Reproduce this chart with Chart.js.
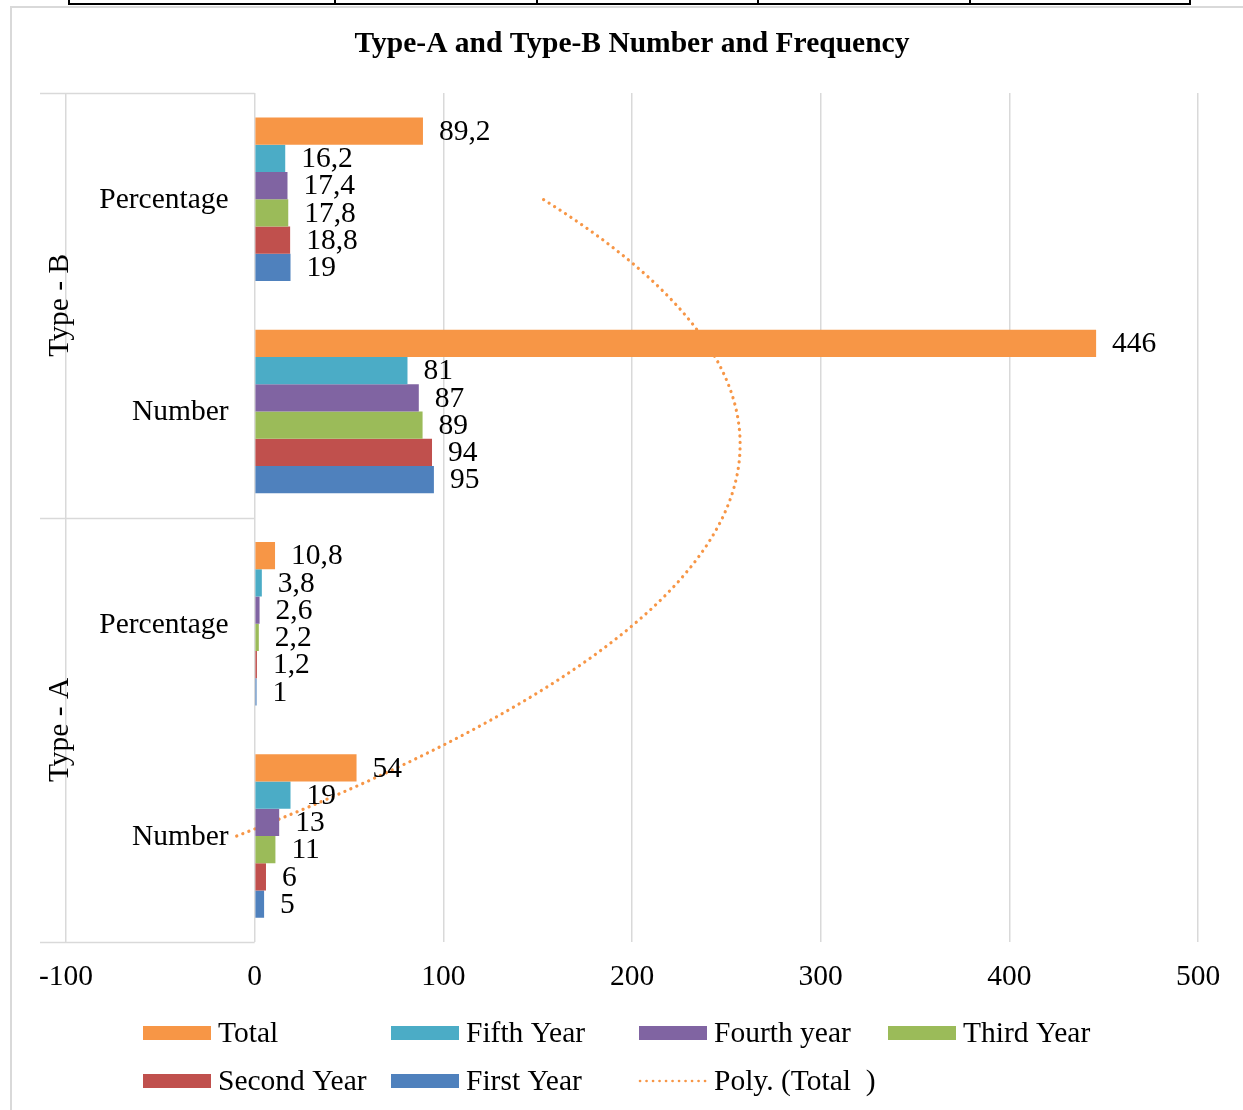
<!DOCTYPE html>
<html>
<head>
<meta charset="utf-8">
<title>Type-A and Type-B Number and Frequency</title>
<script src="https://cdn.jsdelivr.net/npm/chart.js@4/dist/chart.umd.min.js"></script>
<style>
  html, body { margin: 0; padding: 0; background: #fff; }
  #wrap { position: relative; width: 1243px; height: 1110px; }
  canvas { display: block; }
</style>
</head>
<body>
<div id="wrap"><canvas id="chart" width="1243" height="1110"></canvas></div>
<script>
// Category levels (bottom to top, as in the source workbook)
const groupLabels = ['Type - A', 'Type - B'];
const subLabels = ['Number', 'Percentage'];

// Series, one value per category:
// Type-A Number, Type-A Percentage, Type-B Number, Type-B Percentage
const seriesNames = ['Total', 'Fifth Year', 'Fourth year', 'Third Year', 'Second Year', 'First Year'];
const total      = [54, 10.8, 446, 89.2];
const fifthYear  = [19, 3.8, 81, 16.2];
const fourthYear = [13, 2.6, 87, 17.4];
const thirdYear  = [11, 2.2, 89, 17.8];
const secondYear = [6, 1.2, 94, 18.8];
const firstYear  = [5, 1, 95, 19];

const xTicks = [-100, 0, 100, 200, 300, 400, 500];
const trendName = 'Poly. (Total  )';

const FONT = "'Liberation Serif', 'Times New Roman', serif";
const FONT_SIZE = 29.5;
const colors = ['#F79646', '#4BACC6', '#8064A2', '#9BBB59', '#C0504D', '#4F81BD'];
const gridColor = '#D9D9D9';

const categories = groupLabels.flatMap(g => subLabels.map(s => ({ group: g, sub: s })));
const categoryLabels = categories.map(c => c.group + ' ' + c.sub);

// Second-order least-squares fit of the Total series against category position (1..n)
function polyFit2(ys) {
  const s = [0, 0, 0, 0, 0], t = [0, 0, 0];
  ys.forEach((y, i) => {
    const x = i + 1;
    let p = 1;
    for (let k = 0; k < 5; k++) { s[k] += p; p *= x; }
    t[0] += y; t[1] += y * x; t[2] += y * x * x;
  });
  const m = [[s[0], s[1], s[2], t[0]], [s[1], s[2], s[3], t[1]], [s[2], s[3], s[4], t[2]]];
  for (let c = 0; c < 3; c++) {
    for (let r = c + 1; r < 3; r++) {
      const f = m[r][c] / m[c][c];
      for (let k = c; k < 4; k++) m[r][k] -= f * m[c][k];
    }
  }
  const coef = [0, 0, 0];
  for (let r = 2; r >= 0; r--) {
    let v = m[r][3];
    for (let k = r + 1; k < 3; k++) v -= m[r][k] * coef[k];
    coef[r] = v / m[r][r];
  }
  return x => coef[0] + coef[1] * x + coef[2] * x * x;
}
const trendFn = polyFit2(total);
// Curve samples in the category scale's index space (category i sits at index i, position i + 1)
const trendPoints = [];
for (let k = 0; k <= 90; k++) {
  const idx = (total.length - 1) * k / 90;
  trendPoints.push({ x: trendFn(idx + 1), y: idx });
}

const barSeries = [total, fifthYear, fourthYear, thirdYear, secondYear, firstYear];
const datasets = barSeries.map((values, i) => ({
  type: 'bar',
  label: seriesNames[i],
  data: values,
  backgroundColor: colors[i],
  borderWidth: 0,
  categoryPercentage: 0.77,
  barPercentage: 1,
  xAxisID: 'x',
  yAxisID: 'y',
  order: 1
}));
datasets.push({
  type: 'line',
  label: trendName,
  data: trendPoints,
  parsing: false,
  normalized: true,
  xAxisID: 'x',
  yAxisID: 'y',
  borderColor: '#F79646',
  borderWidth: 3.2,
  borderDash: [0.1, 6.4],
  borderCapStyle: 'round',
  pointRadius: 0,
  fill: false,
  tension: 0,
  order: 5
});

// Page frame and the ruled table edge above the chart
const framePlugin = {
  id: 'frame',
  beforeDraw(chart) {
    const ctx = chart.ctx;
    ctx.save();
    ctx.fillStyle = '#fff';
    ctx.fillRect(0, 0, chart.width, chart.height);
    ctx.strokeStyle = gridColor;
    ctx.lineWidth = 2;
    ctx.beginPath();
    ctx.moveTo(11, chart.height);
    ctx.lineTo(11, 7);
    ctx.lineTo(chart.width, 7);
    ctx.stroke();
    ctx.strokeStyle = '#000';
    ctx.lineWidth = 2;
    ctx.beginPath();
    ctx.moveTo(68, 4); ctx.lineTo(1191, 4);
    [69, 335, 537, 758, 970, 1190].forEach(x => { ctx.moveTo(x, 0); ctx.lineTo(x, 5); });
    ctx.stroke();
    ctx.restore();
  }
};

// Two-level category axis drawn on the left of the zero line
const categoryAxisPlugin = {
  id: 'categoryAxis',
  afterDraw(chart) {
    const ctx = chart.ctx;
    const ys = chart.scales.y;
    const x0 = chart.scales.x.getPixelForValue(0);
    const { top, bottom, left } = chart.chartArea;
    const n = categories.length;
    const per = subLabels.length;
    ctx.save();
    ctx.strokeStyle = gridColor;
    ctx.lineWidth = 1.5;
    const bounds = [];
    for (let g = 0; g <= groupLabels.length; g++) {
      let y;
      if (g === 0) y = bottom;
      else if (g === groupLabels.length) y = top;
      else y = (ys.getPixelForValue(g * per - 1) + ys.getPixelForValue(g * per)) / 2;
      bounds.push(y);
      ctx.beginPath();
      ctx.moveTo(40, Math.round(y) + 0.5);
      ctx.lineTo(x0, Math.round(y) + 0.5);
      ctx.stroke();
    }
    ctx.fillStyle = '#000';
    ctx.font = FONT_SIZE + 'px ' + FONT;
    ctx.textAlign = 'right';
    ctx.textBaseline = 'middle';
    for (let i = 0; i < n; i++) {
      ctx.fillText(categories[i].sub, x0 - 26, ys.getPixelForValue(i) + 1);
    }
    ctx.textAlign = 'center';
    groupLabels.forEach((g, i) => {
      const cy = (bounds[i] + bounds[i + 1]) / 2;
      ctx.save();
      ctx.translate(left - 6, cy);
      ctx.rotate(-Math.PI / 2);
      ctx.fillText(g, 0, 0);
      ctx.restore();
    });
    ctx.restore();
  }
};

// Value labels at the end of each bar
const valueLabelPlugin = {
  id: 'valueLabels',
  afterDatasetsDraw(chart) {
    const ctx = chart.ctx;
    ctx.save();
    ctx.fillStyle = '#000';
    ctx.font = FONT_SIZE + 'px ' + FONT;
    ctx.textAlign = 'left';
    ctx.textBaseline = 'middle';
    chart.data.datasets.forEach((ds, di) => {
      if (ds.type !== 'bar') return;
      chart.getDatasetMeta(di).data.forEach((el, i) => {
        const text = String(ds.data[i]).replace('.', ',');
        ctx.fillText(text, el.x + 16, el.y + 1);
      });
    });
    ctx.restore();
  }
};

// Legend laid out in a fixed grid of four columns
const gridLegendPlugin = {
  id: 'gridLegend',
  afterDraw(chart) {
    const ctx = chart.ctx;
    const colX = [143, 391, 639, 888];
    const rowY = [1033, 1081];
    ctx.save();
    ctx.font = FONT_SIZE + 'px ' + FONT;
    ctx.textAlign = 'left';
    ctx.textBaseline = 'middle';
    chart.data.datasets.forEach((ds, i) => {
      const x = colX[i % 4];
      const y = rowY[Math.floor(i / 4)];
      if (ds.type === 'bar') {
        ctx.fillStyle = ds.backgroundColor;
        ctx.fillRect(x, y - 7, 68, 14);
      } else {
        ctx.strokeStyle = ds.borderColor;
        ctx.lineWidth = 2.6;
        ctx.lineCap = 'round';
        ctx.setLineDash(ds.borderDash);
        ctx.beginPath();
        ctx.moveTo(x + 1, y);
        ctx.lineTo(x + 67, y);
        ctx.stroke();
        ctx.setLineDash([]);
      }
      ctx.fillStyle = '#000';
      ctx.fillText(ds.label, x + 75, y + 1);
    });
    ctx.restore();
  }
};

Chart.defaults.font.family = FONT;
Chart.defaults.color = '#000';

new Chart(document.getElementById('chart'), {
  type: 'bar',
  data: { labels: categoryLabels, datasets },
  options: {
    indexAxis: 'y',
    responsive: false,
    animation: false,
    layout: { padding: { left: 66, right: 45, top: 0, bottom: 98.4 } },
    plugins: {
      legend: { display: false },
      tooltip: { enabled: false },
      title: {
        display: true,
        text: 'Type-A and Type-B Number and Frequency',
        color: '#000',
        font: { family: FONT, size: 29.5, weight: 'bold' },
        padding: { top: 27, bottom: 30.6 }
      }
    },
    scales: {
      x: {
        type: 'linear',
        position: 'bottom',
        min: xTicks[0],
        max: xTicks[xTicks.length - 1],
        afterBuildTicks: scale => { scale.ticks = xTicks.map(v => ({ value: v })); },
        border: { display: false },
        grid: { color: gridColor, lineWidth: 1.5, drawTicks: false },
        ticks: { color: '#000', font: { family: FONT, size: FONT_SIZE }, padding: 17, callback: v => String(v) }
      },
      y: {
        type: 'category',
        labels: categoryLabels,
        reverse: true,
        offset: true,
        display: false
      }
    }
  },
  plugins: [framePlugin, categoryAxisPlugin, valueLabelPlugin, gridLegendPlugin]
});
</script>
</body>
</html>
